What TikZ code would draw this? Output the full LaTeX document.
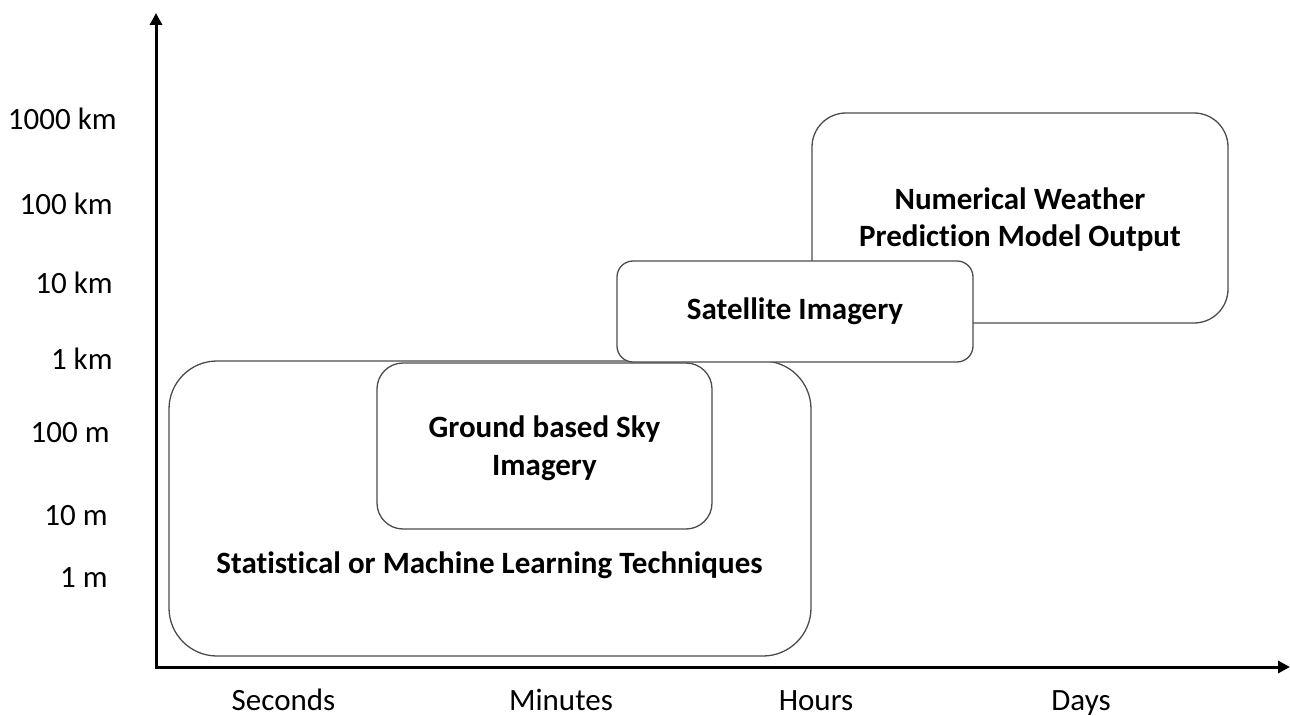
\documentclass[tikz,border=0pt]{standalone}
\usepackage{fontspec}
\setmainfont{Carlito}[Ligatures=NoCommon]
\usetikzlibrary{arrows.meta}
\begin{document}
\begin{tikzpicture}[x=0.5pt,y=-0.5pt,
  box/.style={draw=black!70, line width=0.65pt, fill=white, inner sep=0pt},
  twoline/.style={text height=29pt, text depth=0pt},
  axisline/.style={line width=1.5pt, line join=miter, {Triangle[length=6pt,width=6pt]}-{Triangle[length=6pt,width=6pt]}},
  lab/.style={font=\fontsize{15.5}{18}\selectfont, inner sep=0pt},
  ttl/.style={font=\fontsize{15.5}{18.8}\selectfont\bfseries, align=center, inner sep=0pt}]
\useasboundingbox (0,0) rectangle (1290,716);
% boxes
\node[box, minimum width=321pt, minimum height=147.5pt, rounded corners=24pt] (stat) at (490,508.5) {};
\node[ttl, anchor=base] (stattext) at (489.5,573) {Statistical or Machine Learning Techniques};
\node[box, ttl, twoline, minimum width=167.5pt, minimum height=83pt, rounded corners=13pt] (ground) at (544.5,446) {Ground based Sky\\Imagery};
\node[box, ttl, twoline, minimum width=208pt, minimum height=105pt, rounded corners=17pt] (nwp) at (1020,218) {Numerical Weather\\Prediction Model Output};
\node[box, ttl, minimum width=178pt, minimum height=50.5pt, rounded corners=8pt] (sat) at (795,311.5) {Satellite Imagery};
% axes
\coordinate (O) at (156,667);
\coordinate (Ytip) at (156,13);
\coordinate (Xtip) at (1290,667);
\draw[axisline] (Ytip) -- (O) -- (Xtip);
% y labels
\node[lab, anchor=base east] (l1000km) at (117,130) {1000 km};
\node[lab, anchor=base east] (l100km) at (113,215) {100 km};
\node[lab, anchor=base east] (l10km) at (113,294) {10 km};
\node[lab, anchor=base east] (l1km) at (113,370) {1 km};
\node[lab, anchor=base east] (l100m) at (110,443) {100 m};
\node[lab, anchor=base east] (l10m) at (108,525) {10 m};
\node[lab, anchor=base east] (l1m) at (108,587) {1 m};
% x labels
\node[lab, anchor=base] (sec) at (283.5,710) {Seconds};
\node[lab, anchor=base] (min) at (561,710) {Minutes};
\node[lab, anchor=base] (hrs) at (816,710) {Hours};
\node[lab, anchor=base] (days) at (1081,710) {Days};
\end{tikzpicture}
\end{document}
